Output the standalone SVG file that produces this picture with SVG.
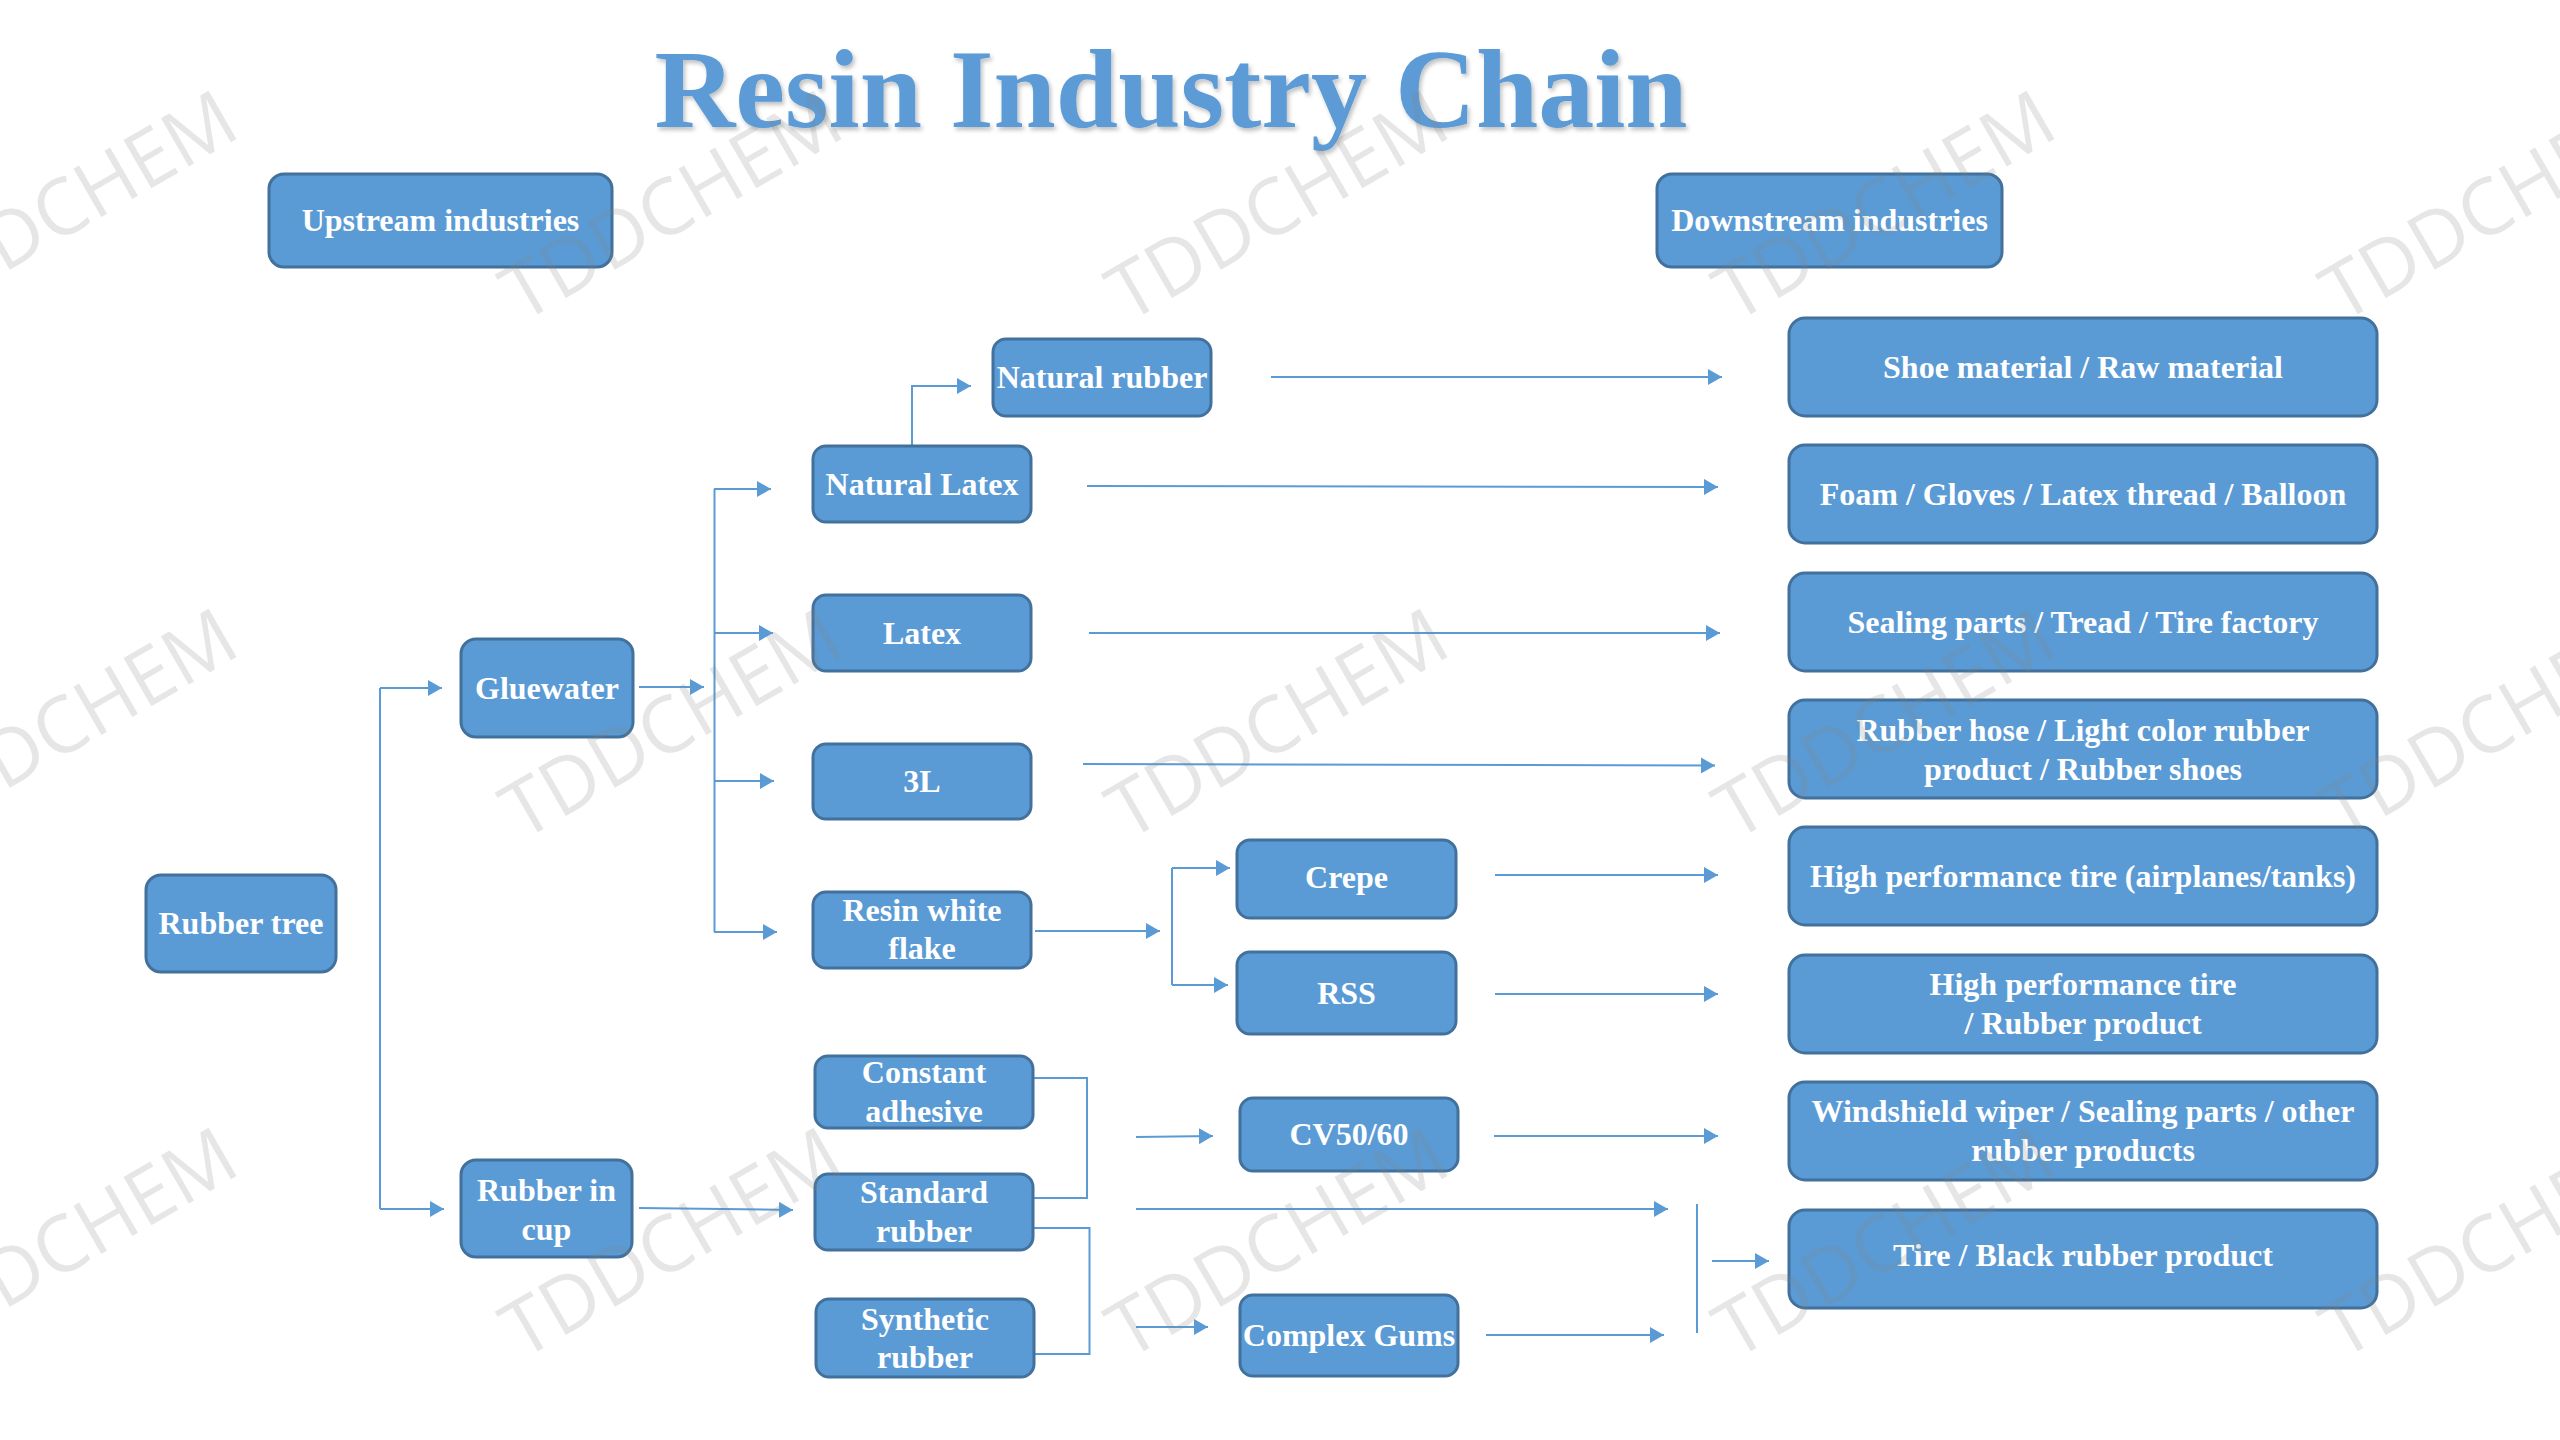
<svg xmlns="http://www.w3.org/2000/svg" width="2560" height="1440" viewBox="0 0 2560 1440">
<defs>
<style>
.node rect{fill:#5B9BD5;stroke:#41719C;stroke-width:3}
.node text{font-family:"Liberation Serif","Times New Roman",serif;font-weight:bold;font-size:32px;fill:#ffffff;text-anchor:middle}
.c{fill:none;stroke:#5B9BD5;stroke-width:2}
.a{marker-end:url(#arr)}
.title{font-family:"Liberation Serif","Times New Roman",serif;font-weight:bold;font-size:112px;fill:#5B9BD5;text-anchor:middle}
.wm{font-family:"Open Sans","Liberation Sans",sans-serif;font-size:78px;fill:#808080;fill-opacity:0.2;text-anchor:middle}
</style>
<marker id="arr" markerUnits="userSpaceOnUse" markerWidth="14" markerHeight="16" viewBox="0 0 14 16" refX="14" refY="8" orient="auto">
<path d="M0,0 L14,8 L0,16 z" fill="#5B9BD5"/>
</marker>
<filter id="sh" x="-5%" y="-20%" width="110%" height="140%">
<feDropShadow dx="2" dy="3" stdDeviation="2" flood-color="#000000" flood-opacity="0.25"/>
</filter>
</defs>
<rect width="2560" height="1440" fill="#ffffff"/>
<text class="title" x="1171" y="127" filter="url(#sh)">Resin Industry Chain</text>

<g id="connectors">
<path class="c" d="M380,688 V1209"/>
<path class="c a" d="M380,688 H442"/>
<path class="c a" d="M380,1209 H444"/>
<path class="c a" d="M639,687 H704"/>
<path class="c" d="M714.5,489 V932"/>
<path class="c a" d="M714,489 H771"/>
<path class="c a" d="M714,633 H773"/>
<path class="c a" d="M714,781 H774"/>
<path class="c a" d="M714,932 H777"/>
<path class="c a" d="M912,446 V386 H971"/>
<path class="c a" d="M1271,377 H1722"/>
<path class="c a" d="M1087,486 L1718,487"/>
<path class="c a" d="M1089,633 H1720"/>
<path class="c a" d="M1083,764 L1715,765.5"/>
<path class="c a" d="M1035,931 H1160"/>
<path class="c" d="M1172,868 V985"/>
<path class="c a" d="M1172,868 H1230"/>
<path class="c a" d="M1172,985 H1228"/>
<path class="c a" d="M1495,875 H1718"/>
<path class="c a" d="M1495,994 H1718"/>
<path class="c a" d="M1494,1136 H1718"/>
<path class="c a" d="M1486,1335 H1664"/>
<path class="c a" d="M1136,1209 H1668"/>
<path class="c" d="M1697,1204 V1333"/>
<path class="c a" d="M1712,1261 H1769"/>
<path class="c" d="M1033,1078 H1087 V1198 H1033"/>
<path class="c a" d="M1136,1137 L1213,1136"/>
<path class="c" d="M1033,1228 H1089.5 V1354 H1034"/>
<path class="c a" d="M1136,1327 H1208"/>
<path class="c a" d="M639,1208 L793,1210"/>
</g>

<g id="upstream" class="node"><rect x="269" y="174" width="343" height="93" rx="15"/><text x="440.5" y="231">Upstream industries</text></g>
<g id="downstream" class="node"><rect x="1657" y="174" width="345" height="93" rx="15"/><text x="1829.5" y="231">Downstream industries</text></g>
<g id="rubber-tree" class="node"><rect x="146" y="875" width="190" height="97" rx="15"/><text x="241" y="934">Rubber tree</text></g>
<g id="gluewater" class="node"><rect x="461" y="639" width="172" height="98" rx="15"/><text x="547" y="699">Gluewater</text></g>
<g id="rubber-in-cup" class="node"><rect x="461" y="1160" width="171" height="97" rx="15"/><text x="546.5" y="1201">Rubber in</text><text x="546.5" y="1240">cup</text></g>
<g id="natural-rubber" class="node"><rect x="993" y="339" width="218" height="77" rx="13"/><text x="1102" y="388">Natural rubber</text></g>
<g id="natural-latex" class="node"><rect x="813" y="446" width="218" height="76" rx="13"/><text x="922" y="495">Natural Latex</text></g>
<g id="latex" class="node"><rect x="813" y="595" width="218" height="76" rx="13"/><text x="922" y="644">Latex</text></g>
<g id="n3l" class="node"><rect x="813" y="744" width="218" height="75" rx="13"/><text x="922" y="792">3L</text></g>
<g id="resin-white-flake" class="node"><rect x="813" y="892" width="218" height="76" rx="13"/><text x="922" y="921">Resin white</text><text x="922" y="959">flake</text></g>
<g id="constant-adhesive" class="node"><rect x="815" y="1056" width="218" height="72" rx="13"/><text x="924" y="1083">Constant</text><text x="924" y="1122">adhesive</text></g>
<g id="standard-rubber" class="node"><rect x="815" y="1174" width="218" height="76" rx="13"/><text x="924" y="1203">Standard</text><text x="924" y="1242">rubber</text></g>
<g id="synthetic-rubber" class="node"><rect x="816" y="1299" width="218" height="78" rx="13"/><text x="925" y="1330">Synthetic</text><text x="925" y="1368">rubber</text></g>
<g id="crepe" class="node"><rect x="1237" y="840" width="219" height="78" rx="13"/><text x="1346.5" y="888">Crepe</text></g>
<g id="rss" class="node"><rect x="1237" y="952" width="219" height="82" rx="13"/><text x="1346.5" y="1004">RSS</text></g>
<g id="cv5060" class="node"><rect x="1240" y="1098" width="218" height="73" rx="13"/><text x="1349" y="1145">CV50/60</text></g>
<g id="complex-gums" class="node"><rect x="1240" y="1295" width="218" height="81" rx="13"/><text x="1349" y="1346">Complex Gums</text></g>
<g id="d1" class="node"><rect x="1789" y="318" width="588" height="98" rx="16"/><text x="2083" y="378">Shoe material / Raw material</text></g>
<g id="d2" class="node"><rect x="1789" y="445" width="588" height="98" rx="16"/><text x="2083" y="505">Foam / Gloves / Latex thread / Balloon</text></g>
<g id="d3" class="node"><rect x="1789" y="573" width="588" height="98" rx="16"/><text x="2083" y="633">Sealing parts / Tread / Tire factory</text></g>
<g id="d4" class="node"><rect x="1789" y="700" width="588" height="98" rx="16"/><text x="2083" y="741">Rubber hose / Light color rubber</text><text x="2083" y="780">product / Rubber shoes</text></g>
<g id="d5" class="node"><rect x="1789" y="827" width="588" height="98" rx="16"/><text x="2083" y="887">High performance tire (airplanes/tanks)</text></g>
<g id="d6" class="node"><rect x="1789" y="955" width="588" height="98" rx="16"/><text x="2083" y="995">High performance tire</text><text x="2083" y="1034">/ Rubber product</text></g>
<g id="d7" class="node"><rect x="1789" y="1082" width="588" height="98" rx="16"/><text x="2083" y="1122">Windshield wiper / Sealing parts / other</text><text x="2083" y="1161">rubber products</text></g>
<g id="d8" class="node"><rect x="1789" y="1210" width="588" height="98" rx="16"/><text x="2083" y="1266">Tire / Black rubber product</text></g>

<g id="watermarks" class="wm">
<text x="66" y="233" transform="rotate(-30 66 205)">TDDCHEM</text>
<text x="671" y="233" transform="rotate(-30 671 205)">TDDCHEM</text>
<text x="1277" y="233" transform="rotate(-30 1277 205)">TDDCHEM</text>
<text x="1884" y="233" transform="rotate(-30 1884 205)">TDDCHEM</text>
<text x="2491" y="233" transform="rotate(-30 2491 205)">TDDCHEM</text>
<text x="66" y="751" transform="rotate(-30 66 723)">TDDCHEM</text>
<text x="671" y="751" transform="rotate(-30 671 723)">TDDCHEM</text>
<text x="1277" y="751" transform="rotate(-30 1277 723)">TDDCHEM</text>
<text x="1884" y="751" transform="rotate(-30 1884 723)">TDDCHEM</text>
<text x="2491" y="751" transform="rotate(-30 2491 723)">TDDCHEM</text>
<text x="66" y="1270" transform="rotate(-30 66 1242)">TDDCHEM</text>
<text x="671" y="1270" transform="rotate(-30 671 1242)">TDDCHEM</text>
<text x="1277" y="1270" transform="rotate(-30 1277 1242)">TDDCHEM</text>
<text x="1884" y="1270" transform="rotate(-30 1884 1242)">TDDCHEM</text>
<text x="2491" y="1270" transform="rotate(-30 2491 1242)">TDDCHEM</text>
</g>
</svg>
